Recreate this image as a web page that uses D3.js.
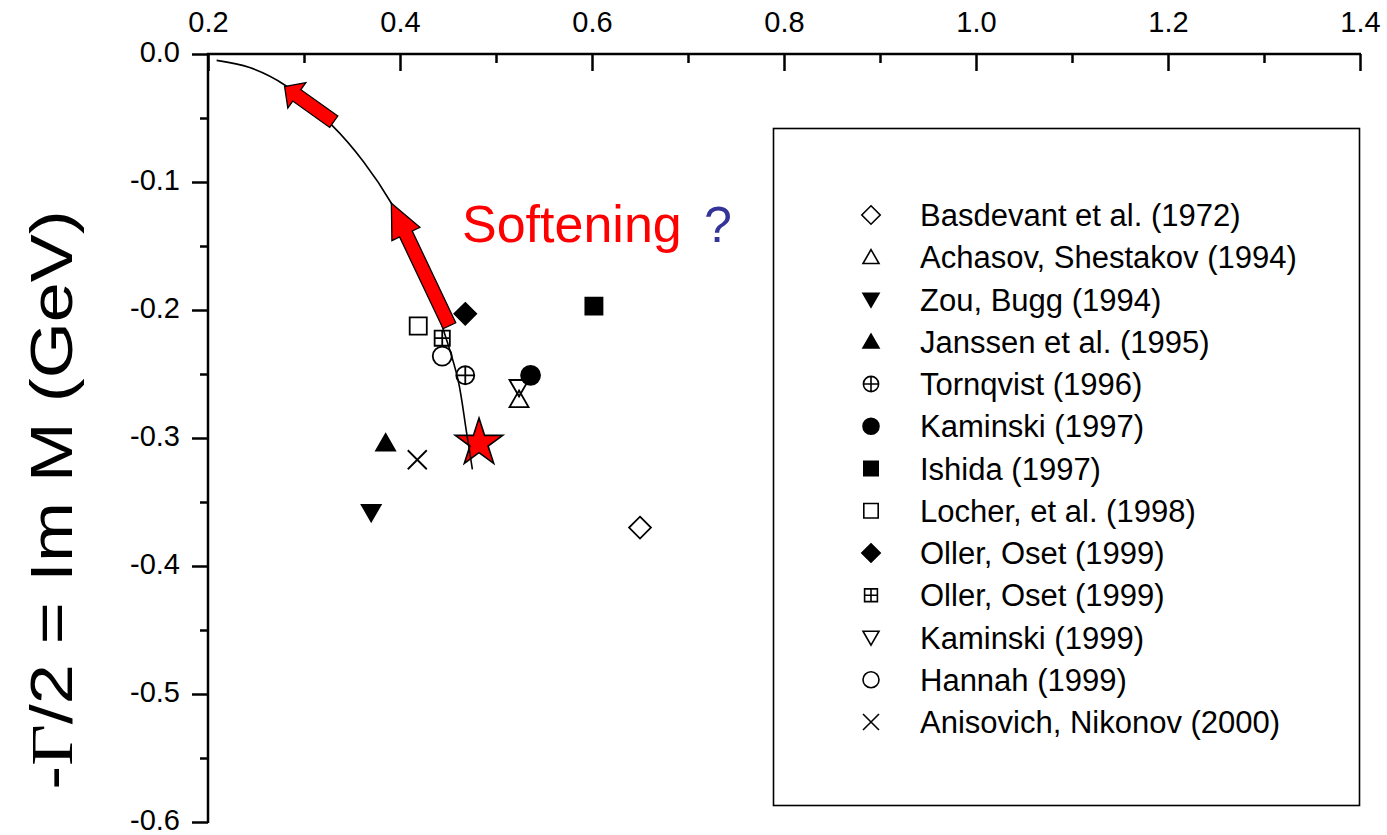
<!DOCTYPE html>
<html>
<head>
<meta charset="utf-8">
<script src="https://cdn.jsdelivr.net/npm/d3@7"></script>
<style>
  html, body { margin: 0; padding: 0; background: #fff; }
  svg { display: block; }
  text { font-family: "Liberation Sans", Arial, Helvetica, sans-serif; }
</style>
</head>
<body>
<svg id="chart" width="1387" height="835"></svg>
<script>
// ---- sigma-pole determinations: Re M (GeV) vs Im M = -Gamma/2 (GeV) ----
const studies = [
  "Basdevant et al. (1972)",
  "Achasov, Shestakov (1994)",
  "Zou, Bugg (1994)",
  "Janssen et al. (1995)",
  "Tornqvist (1996)",
  "Kaminski (1997)",
  "Ishida (1997)",
  "Locher, et al. (1998)",
  "Oller, Oset (1999)",
  "Oller, Oset (1999)",
  "Kaminski (1999)",
  "Hannah (1999)",
  "Anisovich, Nikonov (2000)"
];
const reM = [0.650, 0.524, 0.370, 0.385, 0.468, 0.536, 0.602, 0.419, 0.468, 0.444, 0.524, 0.444, 0.418];
const imM = [-0.370, -0.270, -0.358, -0.304, -0.251, -0.251, -0.197, -0.2125, -0.203, -0.222, -0.2605, -0.236, -0.317];
const symbols = ["diamondOpen", "triUpOpen", "triDownFilled", "triUpFilled", "circlePlus",
                 "circleFilled", "squareFilled", "squareOpen", "diamondFilled", "squarePlus",
                 "triDownOpen", "circleOpen", "cross"];

// pole position of the present calculation
const starRe = [0.4823];
const starIm = [-0.304];

// pole trajectory under softening
const trajRe = [0.209, 0.2434, 0.2799, 0.330, 0.362, 0.391, 0.419, 0.448, 0.4605, 0.469, 0.4754];
const trajIm = [-0.005, -0.0106, -0.0242, -0.0563, -0.0841, -0.1166, -0.159, -0.222, -0.2547, -0.294, -0.3245];

// direction arrows along the trajectory: [tail, tip]
const arrowTailRe = [0.331, 0.4515];
const arrowTailIm = [-0.0529, -0.2123];
const arrowTipRe  = [0.2798, 0.391];
const arrowTipIm  = [-0.0255, -0.1166];
const arrowHeadLen = [15, 34];

// axis ticks
const xMajor = [0.2, 0.4, 0.6, 0.8, 1.0, 1.2, 1.4];
const xMinor = [0.3, 0.5, 0.7, 0.9, 1.1, 1.3];
const yMajor = [0.0, -0.1, -0.2, -0.3, -0.4, -0.5, -0.6];
const yMinor = [-0.05, -0.15, -0.25, -0.35, -0.45, -0.55];

const svg = d3.select("#chart");
const x = d3.scaleLinear().domain([0.2, 1.4]).range([208, 1360]);
const y = d3.scaleLinear().domain([0, -0.6]).range([54, 822]);

// one-decimal labels with a plain hyphen as the minus sign
const fmt = d => d3.format(".1f")(d).replace("\u2212", "-");

// ---- axes ----
const axisW = 2.5;
const tickFont = 29;
const topAxis = svg.append("g").attr("transform", `translate(0,${y(0)})`)
  .call(d3.axisTop(x).tickValues(xMajor).tickSize(-17).tickPadding(22).tickFormat(fmt));
topAxis.select(".domain").attr("stroke-width", axisW).attr("d", `M${x(0.2) - 1},0H${x(1.4) + 1}`);
topAxis.selectAll(".tick line").attr("stroke-width", axisW);
topAxis.selectAll(".tick text").attr("font-size", tickFont).attr("fill", "#000")
  .attr("font-family", "'Liberation Sans', Arial, sans-serif");

const topMinor = svg.append("g").attr("transform", `translate(0,${y(0)})`)
  .call(d3.axisTop(x).tickValues(xMinor).tickSize(-9).tickFormat(""));
topMinor.select(".domain").remove();
topMinor.selectAll(".tick line").attr("stroke-width", axisW);

const leftAxis = svg.append("g").attr("transform", `translate(${x(0.2)},0)`)
  .call(d3.axisLeft(y).tickValues(yMajor).tickSize(16).tickPadding(12).tickFormat(fmt));
leftAxis.select(".domain").attr("stroke-width", axisW).attr("d", `M0,${y(0) - 1}V${y(-0.6) + 1}`);
leftAxis.selectAll(".tick line").attr("stroke-width", axisW);
leftAxis.selectAll(".tick text").attr("font-size", tickFont).attr("fill", "#000")
  .attr("font-family", "'Liberation Sans', Arial, sans-serif")
  .attr("dy", "0.26em");

const leftMinor = svg.append("g").attr("transform", `translate(${x(0.2)},0)`)
  .call(d3.axisLeft(y).tickValues(yMinor).tickSize(8).tickFormat(""));
leftMinor.select(".domain").remove();
leftMinor.selectAll(".tick line").attr("stroke-width", axisW);

// y-axis title
const yTitle = svg.append("text")
  .attr("transform", "translate(72,500) rotate(-90) scale(1.2,1)")
  .attr("text-anchor", "middle")
  .attr("font-size", 60)
  .attr("fill", "#000");
yTitle.append("tspan").text("-");
yTitle.append("tspan").attr("font-family", "'Liberation Serif', 'Times New Roman', serif").text("\u0393");
yTitle.append("tspan").text("/2 = Im M (GeV)");

// ---- marker shapes ----
function markerPath(type, s) {
  const h = s / 2;
  const p = d3.path();
  switch (type) {
    case "diamondOpen": case "diamondFilled": {
      const r = h * 1.15;
      p.moveTo(0, -r); p.lineTo(r, 0); p.lineTo(0, r); p.lineTo(-r, 0); p.closePath(); break;
    }
    case "triUpOpen": case "triUpFilled": {
      const th = s * 0.87;
      p.moveTo(0, -th * 0.55); p.lineTo(h, th * 0.45); p.lineTo(-h, th * 0.45); p.closePath(); break;
    }
    case "triDownOpen": case "triDownFilled": {
      const th = s * 0.87;
      p.moveTo(0, th * 0.55); p.lineTo(h, -th * 0.45); p.lineTo(-h, -th * 0.45); p.closePath(); break;
    }
    case "squareOpen": case "squareFilled":
      p.rect(-h * 0.9, -h * 0.9, h * 1.8, h * 1.8); break;
    case "squarePlus": {
      const q = h * 0.8;
      p.rect(-q, -q, 2 * q, 2 * q);
      p.moveTo(-q, 0); p.lineTo(q, 0); p.moveTo(0, -q); p.lineTo(0, q); break;
    }
    case "circleOpen": case "circleFilled":
      p.moveTo(h, 0); p.arc(0, 0, h, 0, 2 * Math.PI); break;
    case "circlePlus":
      p.moveTo(h * 0.95, 0); p.arc(0, 0, h * 0.95, 0, 2 * Math.PI);
      p.moveTo(-h * 0.95, 0); p.lineTo(h * 0.95, 0); p.moveTo(0, -h * 0.95); p.lineTo(0, h * 0.95); break;
    case "cross":
      p.moveTo(-h, -h); p.lineTo(h, h); p.moveTo(h, -h); p.lineTo(-h, h); break;
  }
  return p.toString();
}
const isFilled = t => /Filled/.test(t);

// ---- red star (drawn first: the trajectory runs over it) ----
function starPath(R) {
  const r = R * 0.382;
  const pts = d3.range(10).map(i => {
    const a = -Math.PI / 2 + i * Math.PI / 5;
    const rr = i % 2 === 0 ? R : r;
    return [rr * Math.cos(a), rr * Math.sin(a)];
  });
  return "M" + pts.map(p => p.join(",")).join("L") + "Z";
}
svg.append("g").selectAll("path.star").data(starRe.map((d, i) => [d, starIm[i]]))
  .join("path")
  .attr("transform", d => `translate(${x(d[0])},${y(d[1])})`)
  .attr("d", starPath(25))
  .attr("fill", "#ff0000").attr("stroke", "#000").attr("stroke-width", 1.6)
  .attr("stroke-linejoin", "miter");

// ---- data points ----
const pts = reM.map((d, i) => ({ re: d, im: imM[i], sym: symbols[i] }));
svg.append("g").selectAll("path.pt").data(pts).join("path")
  .attr("transform", d => `translate(${x(d.re)},${y(d.im)})`)
  .attr("d", d => markerPath(d.sym, 19))
  .attr("fill", d => isFilled(d.sym) ? "#000" : "none")
  .attr("stroke", "#000").attr("stroke-width", 1.8);

// ---- trajectory ----
const line = d3.line().x(d => x(d[0])).y(d => y(d[1])).curve(d3.curveCatmullRom.alpha(0.5));
svg.append("path")
  .datum(trajRe.map((d, i) => [d, trajIm[i]]))
  .attr("d", line)
  .attr("fill", "none").attr("stroke", "#000").attr("stroke-width", 1.6);

// ---- block arrows ----
function blockArrow(x0, y0, x1, y1, shaftW, headW, headL) {
  const dx = x1 - x0, dy = y1 - y0, L = Math.hypot(dx, dy);
  const ux = dx / L, uy = dy / L, nx = -uy, ny = ux;
  const bx = x1 - ux * headL, by = y1 - uy * headL;
  const P = (px, py, k) => [px + nx * k, py + ny * k];
  const poly = [
    P(x0, y0, shaftW / 2), P(bx, by, shaftW / 2), P(bx, by, headW / 2), [x1, y1],
    P(bx, by, -headW / 2), P(bx, by, -shaftW / 2), P(x0, y0, -shaftW / 2)
  ];
  return "M" + poly.map(p => p.join(",")).join("L") + "Z";
}
svg.append("g").selectAll("path.arrow").data(arrowTailRe.map((d, i) => i)).join("path")
  .attr("d", i => blockArrow(x(arrowTailRe[i]), y(arrowTailIm[i]), x(arrowTipRe[i]), y(arrowTipIm[i]),
                              14, 31, arrowHeadLen[i]))
  .attr("fill", "#ff0000").attr("stroke", "#000").attr("stroke-width", 1.3)
  .attr("stroke-linejoin", "miter");

// ---- annotation ----
svg.append("text").attr("x", 462).attr("y", 242).attr("font-size", 52).attr("fill", "#ff0000").text("Softening");
svg.append("text").attr("x", 704).attr("y", 242).attr("font-size", 50).attr("fill", "#333399").text("?");

// ---- legend ----
svg.append("rect").attr("x", 773.5).attr("y", 128.5).attr("width", 586).attr("height", 677)
  .attr("fill", "none").attr("stroke", "#000").attr("stroke-width", 1.6);
const leg = svg.append("g").selectAll("g").data(pts).join("g")
  .attr("transform", (d, i) => `translate(0,${215 + i * 42.25})`);
leg.append("path")
  .attr("transform", "translate(871,0)")
  .attr("d", d => markerPath(d.sym, 16))
  .attr("fill", d => isFilled(d.sym) ? "#000" : "none")
  .attr("stroke", "#000").attr("stroke-width", 1.6);
leg.append("text").attr("x", 920).attr("y", 11).attr("font-size", 31).attr("fill", "#000")
  .text((d, i) => studies[i]);
</script>
</body>
</html>
